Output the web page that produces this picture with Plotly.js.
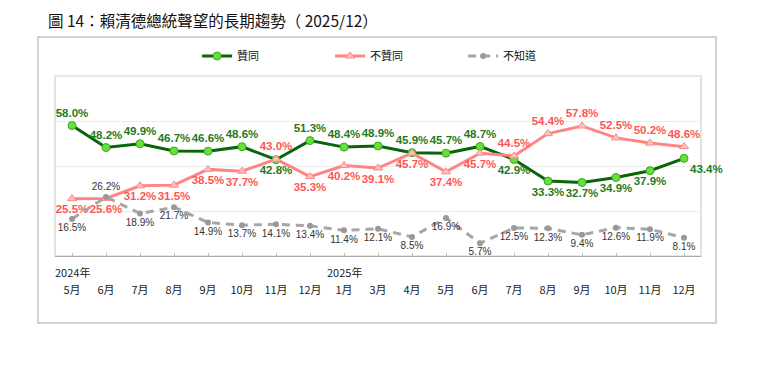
<!DOCTYPE html>
<html>
<head>
<meta charset="utf-8">
<script src="https://cdn.plot.ly/plotly-3.0.1.min.js"></script>
<style>body{margin:0;background:#fff}#chart{width:767px;height:374px}</style>
</head>
<body>
<div id="chart"></div>
<script>
const months = ["5月","6月","7月","8月","9月","10月","11月","12月","1月","3月","4月","5月","6月","7月","8月","9月","10月","11月","12月"];
const yearLabels = [{idx:0, text:"2024年"},{idx:8, text:"2025年"}];
const approve = [58.0,48.2,49.9,46.7,46.6,48.6,42.8,51.3,48.4,48.9,45.9,45.7,48.7,42.9,33.3,32.7,34.9,37.9,43.4];
const disapprove = [25.5,25.6,31.2,31.5,38.5,37.7,43.0,35.3,40.2,39.1,45.7,37.4,45.7,44.5,54.4,57.8,52.5,50.2,48.6];
const unknown = [16.5,26.2,18.9,21.7,14.9,13.7,14.1,13.4,11.4,12.1,8.5,16.9,5.7,12.5,12.3,9.4,12.6,11.9,8.1];
const approvePos = ["top center","top center","top center","top center","top center","top center","bottom center","top center","top center","top center","top center","top center","top center","bottom center","bottom center","bottom center","bottom center","bottom center","bottom right"];
const disapprovePos = ["bottom center","bottom center","bottom center","bottom center","bottom center","bottom center","top center","bottom center","bottom center","bottom center","bottom center","bottom center","bottom center","top center","top center","top center","top center","top center","top center"];
const unknownPos = ["bottom center","top center","bottom center","bottom center","bottom center","bottom center","bottom center","bottom center","bottom center","bottom center","bottom center","bottom center","bottom center","bottom center","bottom center","bottom center","bottom center","bottom center","bottom center"];

const xs = months.map((m,i)=>i);
const fmt = v => v.toFixed(1) + "%";
const labFont = "Arial, 'Liberation Sans', sans-serif";
const cjk = "'Noto Sans CJK TC', 'Noto Sans', sans-serif";

const traces = [
  {x: xs, y: approve, name: "贊同", type: "scatter", mode: "lines+markers+text",
   line: {color: "#0a640a", width: 3}, marker: {color: "#66e03a", size: 8, line: {color: "#3aa820", width: 1}},
   text: approve.map(fmt), textposition: approvePos,
   textfont: {family: labFont, size: 11.5, color: "#1e7b1e", weight: "bold"}, cliponaxis: false},
  {x: xs, y: disapprove, name: "不贊同", type: "scatter", mode: "lines+markers+text",
   line: {color: "#ff8585", width: 3}, marker: {symbol: "triangle-up", color: "#ffc0c0", size: 8, line: {color: "#ff8585", width: 1}},
   text: disapprove.map(fmt), textposition: disapprovePos,
   textfont: {family: labFont, size: 11.5, color: "#ff5555", weight: "bold"}, cliponaxis: false},
  {x: xs, y: unknown, name: "不知道", type: "scatter", mode: "lines+markers+text",
   line: {color: "#a6a6a6", width: 3, dash: "8px,6px"}, marker: {color: "#999999", size: 6},
   text: unknown.map(fmt), textposition: unknownPos,
   textfont: {family: labFont, size: 10, color: "#333333"}, cliponaxis: false}
];

const annotations = [
  {xref: "paper", yref: "paper", x: -0.014, y: 1.311, xanchor: "left", yanchor: "middle", showarrow: false,
   text: "圖 14：賴清德總統聲望的長期趨勢（ 2025/12）", font: {family: cjk, size: 15.5, color: "#111"}}
].concat(yearLabels.map(y => ({xref: "x", yref: "paper", x: y.idx, y: -0.089, xanchor: "center", yanchor: "middle",
   showarrow: false, text: y.text, font: {family: cjk, size: 11, color: "#222"}})));

const shapes = [
  {type: "rect", xref: "paper", yref: "paper", x0: -0.0263, x1: 1.0232, y0: -0.372, y1: 1.2167,
   line: {color: "#c4c4c4", width: 1.5}, fillcolor: "rgba(0,0,0,0)", layer: "below"},
  {type: "rect", xref: "paper", yref: "paper", x0: 0, x1: 1, y0: 0, y1: 1,
   line: {color: "#cfcfcf", width: 1.2}, fillcolor: "rgba(0,0,0,0)", layer: "below"}
];

const layout = {
  width: 767, height: 374,
  margin: {l: 55, r: 66, t: 76, b: 118},
  paper_bgcolor: "#fff", plot_bgcolor: "#fff",
  showlegend: true,
  legend: {orientation: "h", x: 0.22, xanchor: "left", y: 1.111, yanchor: "middle",
    font: {family: cjk, size: 11, color: "#111"}, entrywidth: 88, entrywidthmode: "pixels",
    itemwidth: 30, bgcolor: "rgba(0,0,0,0)"},
  xaxis: {range: [-0.5, 18.5], tickvals: xs, ticktext: months, tickmode: "array",
    tickfont: {family: cjk, size: 11, color: "#222"}, ticks: "inside", tickson: "boundaries",
    ticklen: 3, tickcolor: "#bbbbbb", showline: true, linecolor: "#a8a8a8", linewidth: 1.2,
    showgrid: false, zeroline: false, ticklabelstandoff: 24, fixedrange: true},
  yaxis: {range: [0, 80], tickvals: [20, 40, 60], showticklabels: false, showgrid: true,
    gridcolor: "#ececec", gridwidth: 1, zeroline: false, showline: false, ticks: "", fixedrange: true},
  annotations: annotations,
  shapes: shapes,
  font: {family: cjk}
};

Plotly.newPlot("chart", traces, layout, {displayModeBar: false, staticPlot: true});
</script>
</body>
</html>
